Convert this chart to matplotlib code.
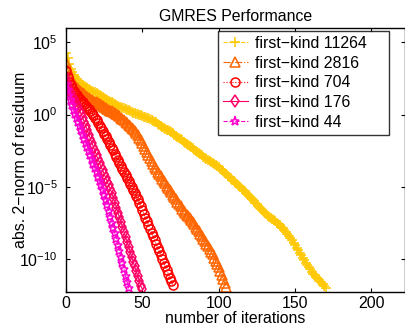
import numpy as np
import matplotlib
matplotlib.use("Agg")
import matplotlib.pyplot as plt

plt.rcParams['font.family'] = ['Liberation Sans', 'DejaVu Sans']

labels = ["first\u2212kind 11264", "first\u2212kind 2816", "first\u2212kind 704",
          "first\u2212kind 176", "first\u2212kind 44"]

# log10 of the residual norm, one value per iteration (iteration 0,1,2,...)
log_res_11264 = [
    4.27, 3.90, 3.52, 3.18, 2.92, 2.72, 2.58, 2.46, 2.34, 2.22,
    2.12, 2.05, 1.98, 1.91, 1.84, 1.77, 1.71, 1.65, 1.59, 1.53,
    1.47, 1.41, 1.35, 1.29, 1.23, 1.17, 1.11, 1.04, 0.97, 0.90,
    0.84, 0.78, 0.72, 0.66, 0.60, 0.55, 0.50, 0.46, 0.42, 0.38,
    0.33, 0.29, 0.24, 0.19, 0.14, 0.10, 0.06, 0.02, -0.02, -0.06,
    -0.10, -0.14, -0.18, -0.22, -0.26, -0.31, -0.37, -0.43, -0.49, -0.55,
    -0.62, -0.69, -0.76, -0.83, -0.90, -0.97, -1.04, -1.10, -1.17, -1.24,
    -1.31, -1.39, -1.47, -1.55, -1.63, -1.71, -1.79, -1.87, -1.95, -2.03,
    -2.11, -2.19, -2.27, -2.35, -2.43, -2.51, -2.59, -2.67, -2.75, -2.83,
    -2.91, -2.99, -3.07, -3.14, -3.21, -3.28, -3.35, -3.42, -3.50, -3.58,
    -3.66, -3.75, -3.84, -3.93, -4.03, -4.13, -4.23, -4.33, -4.43, -4.53,
    -4.63, -4.73, -4.83, -4.93, -5.03, -5.13, -5.23, -5.33, -5.44, -5.55,
    -5.66, -5.77, -5.88, -5.99, -6.10, -6.22, -6.34, -6.46, -6.58, -6.70,
    -6.81, -6.91, -7.00, -7.09, -7.17, -7.25, -7.33, -7.41, -7.49, -7.58,
    -7.67, -7.77, -7.88, -8.00, -8.13, -8.27, -8.41, -8.56, -8.72, -8.88,
    -9.05, -9.22, -9.40, -9.58, -9.76, -9.93, -10.10, -10.27, -10.43, -10.59,
    -10.74, -10.88, -11.02, -11.15, -11.28, -11.40, -11.52, -11.64, -11.76, -11.88,
    -12.00,
]
log_res_2816 = [
    3.60, 3.12, 2.74, 2.45, 2.25, 2.10, 1.97, 1.86, 1.76, 1.66,
    1.56, 1.48, 1.40, 1.32, 1.25, 1.18, 1.10, 1.03, 0.96, 0.90,
    0.84, 0.78, 0.72, 0.66, 0.60, 0.54, 0.48, 0.41, 0.35, 0.28,
    0.22, 0.16, 0.10, 0.04, -0.04, -0.12, -0.21, -0.31, -0.41, -0.51,
    -0.61, -0.71, -0.81, -0.91, -1.02, -1.15, -1.29, -1.44, -1.60, -1.78,
    -1.97, -2.17, -2.38, -2.60, -2.82, -3.04, -3.25, -3.45, -3.63, -3.80,
    -3.96, -4.12, -4.28, -4.44, -4.60, -4.76, -4.92, -5.08, -5.24, -5.40,
    -5.56, -5.72, -5.88, -6.04, -6.20, -6.36, -6.52, -6.67, -6.81, -6.94,
    -7.06, -7.18, -7.31, -7.45, -7.60, -7.76, -7.93, -8.10, -8.27, -8.44,
    -8.61, -8.78, -8.95, -9.13, -9.31, -9.50, -9.70, -9.91, -10.13, -10.36,
    -10.60, -10.85, -11.11, -11.38, -11.66, -11.95,
]
log_res_704 = [
    3.00, 2.60, 2.27, 2.02, 1.82, 1.65, 1.50, 1.36, 1.22, 1.09,
    0.96, 0.84, 0.72, 0.60, 0.48, 0.36, 0.24, 0.10, -0.05, -0.22,
    -0.40, -0.58, -0.76, -0.95, -1.14, -1.33, -1.52, -1.71, -1.90, -2.09,
    -2.29, -2.49, -2.70, -2.91, -3.12, -3.33, -3.54, -3.75, -3.96, -4.17,
    -4.38, -4.59, -4.80, -5.01, -5.22, -5.43, -5.64, -5.85, -6.11, -6.37,
    -6.63, -6.89, -7.15, -7.41, -7.67, -7.93, -8.19, -8.45, -8.71, -8.97,
    -9.23, -9.49, -9.75, -10.01, -10.27, -10.53, -10.79, -11.05, -11.31, -11.57,
    -11.83,
]
log_res_176 = [
    2.50, 2.10, 1.78, 1.50, 1.27, 1.06, 0.86, 0.66, 0.46, 0.26,
    0.02, -0.24, -0.52, -0.81, -1.10, -1.39, -1.68, -1.97, -2.26, -2.54,
    -2.82, -3.09, -3.35, -3.61, -3.87, -4.13, -4.39, -4.65, -4.91, -5.17,
    -5.43, -5.77, -6.11, -6.45, -6.79, -7.13, -7.47, -7.81, -8.15, -8.49,
    -8.83, -9.17, -9.51, -9.85, -10.19, -10.53, -10.87, -11.21, -11.55, -11.89,
    -12.10,
]
log_res_44 = [
    2.10, 1.70, 1.35, 1.00, 0.65, 0.30, 0.02, -0.26, -0.54, -0.82,
    -1.10, -1.40, -1.70, -1.98, -2.27, -2.55, -2.83, -3.11, -3.40, -3.70,
    -4.00, -4.30, -4.60, -4.90, -5.20, -5.55, -5.92, -6.30, -6.70, -7.10,
    -7.50, -7.87, -8.24, -8.61, -9.03, -9.45, -9.87, -10.30, -10.73, -11.16,
    -11.59, -12.05,
]

series = [log_res_11264, log_res_2816, log_res_704, log_res_176, log_res_44]
colors = ["#FFC800", "#FF6600", "#FF0000", "#FF0066", "#FF00CC"]
styles = ["--", "-.", ":", "-", "--"]
markers = ["+", "^", "o", "d", "*"]

xticks = [0, 50, 100, 150, 200]
yticks = [1e-10, 1e-5, 1e0, 1e5]

FS = 11.4

fig = plt.figure(figsize=(4.06, 3.26), dpi=100)
ax = fig.add_axes([66/406, 1 - 292/326, (405 - 66)/406, (292 - 28)/326])

for vals, c, ls, mk, lab in zip(series, colors, styles, markers, labels):
    it = np.arange(len(vals))
    ax.semilogy(it, 10.0 ** np.array(vals), linestyle=ls, color=c, marker=mk,
                markersize=6.5, markerfacecolor='none', markeredgecolor=c,
                markeredgewidth=1.1, linewidth=0.8, label=lab)

ax.set_xlim(0, 222)
ax.set_ylim(10 ** -12.3, 10 ** 6)
ax.set_xticks(xticks)
ax.set_yticks(yticks)
ax.yaxis.set_minor_locator(matplotlib.ticker.NullLocator())
ax.tick_params(direction='in', top=True, right=True, length=3, width=0.8,
               labelsize=FS, pad=3)
ax.tick_params(axis='y', pad=6)
for s in ax.spines.values():
    s.set_linewidth(1.0)

ax.set_title("GMRES Performance", fontsize=FS, pad=5)
ax.set_xlabel("number of iterations", fontsize=FS)
ax.xaxis.set_label_coords(0.5, -(311 - 292) / 264)
ax.set_ylabel("abs. 2\u2212norm of residuum", fontsize=FS)
ax.yaxis.set_label_coords(-(66 - 28) / 339, 0.5)

leg = ax.legend(loc='upper left', bbox_to_anchor=(218/406, 1 - 31/326, 171/406, 0.0),
                bbox_transform=fig.transFigure, mode='expand', fontsize=FS,
                frameon=True, fancybox=False, edgecolor='black',
                handlelength=1.6, handletextpad=0.45, borderpad=0.3,
                labelspacing=0.3, borderaxespad=0)
leg.get_frame().set_linewidth(1.0)

fig.savefig("out.png", dpi=100)
